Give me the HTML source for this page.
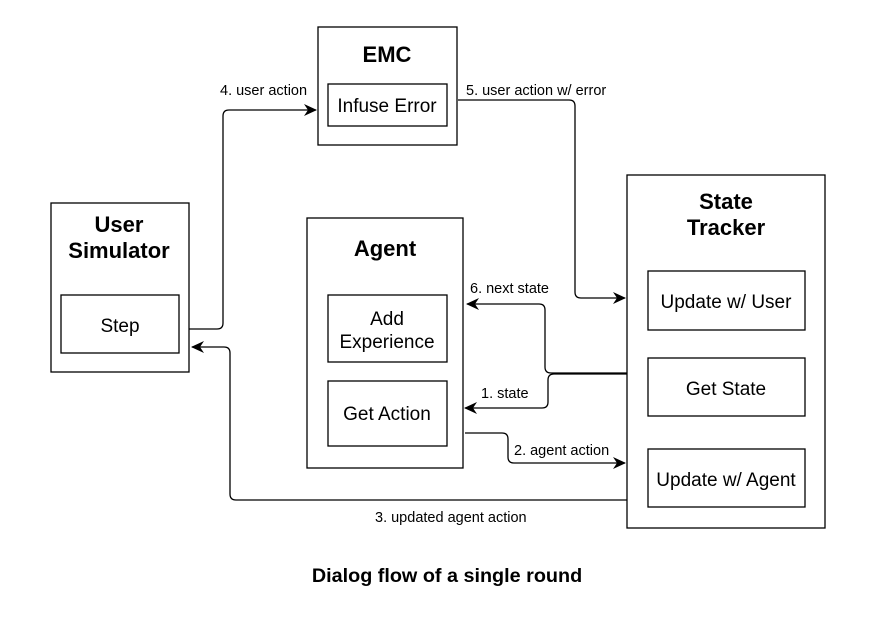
<!DOCTYPE html>
<html><head><style>
body{margin:0;background:#fff;}
svg text{font-family:"Liberation Sans",Arial,sans-serif;fill:#000;}
</style></head><body>
<svg width="881" height="612" viewBox="0 0 881 612" xmlns="http://www.w3.org/2000/svg">
<defs><marker id="a" markerWidth="13" markerHeight="12" refX="12" refY="6" orient="auto" markerUnits="userSpaceOnUse"><path d="M0,0 L13,6 L0,12 L4,6 Z" fill="#000"/></marker></defs>
<g fill="#fff" stroke="#000" stroke-width="1.3">
<rect x="51" y="203" width="138" height="169"/>
<rect x="61" y="295" width="118" height="58"/>
<rect x="318" y="27" width="139" height="118"/>
<rect x="328" y="84" width="119" height="42"/>
<rect x="307" y="218" width="156" height="250"/>
<rect x="328" y="295" width="119" height="67"/>
<rect x="328" y="381" width="119" height="65"/>
<rect x="627" y="175" width="198" height="353"/>
<rect x="648" y="271" width="157" height="59"/>
<rect x="648" y="358" width="157" height="58"/>
<rect x="648" y="449" width="157" height="58"/>
</g>
<g fill="none" stroke="#000" stroke-width="1.3">
<path d="M189,329 H217 Q223,329 223,323 V116 Q223,110 229,110 H316" marker-end="url(#a)"/>
<path d="M458,100 H569 Q575,100 575,106 V292 Q575,298 581,298 H625" marker-end="url(#a)"/>
<path d="M627,373 H551 Q545,373 545,367 V310 Q545,304 539,304 H467" marker-end="url(#a)"/>
<path d="M627,374 H554 Q548,374 548,380 V402 Q548,408 542,408 H465" marker-end="url(#a)"/>
<path d="M465,433 H502 Q508,433 508,439 V457 Q508,463 514,463 H625" marker-end="url(#a)"/>
<path d="M627,500 H236 Q230,500 230,494 V353 Q230,347 224,347 H192" marker-end="url(#a)"/>
</g>
<g text-anchor="middle">
<text x="119" y="232" font-size="22" font-weight="bold">User</text>
<text x="119" y="258" font-size="22" font-weight="bold">Simulator</text>
<text x="120" y="332" font-size="19">Step</text>
<text x="387" y="62" font-size="22" font-weight="bold">EMC</text>
<text x="387" y="112" font-size="19">Infuse Error</text>
<text x="385" y="256" font-size="22" font-weight="bold">Agent</text>
<text x="387" y="325" font-size="19">Add</text>
<text x="387" y="348" font-size="19">Experience</text>
<text x="387" y="420" font-size="19">Get Action</text>
<text x="726" y="209" font-size="22" font-weight="bold">State</text>
<text x="726" y="235" font-size="22" font-weight="bold">Tracker</text>
<text x="726" y="308" font-size="19">Update w/ User</text>
<text x="726" y="395" font-size="19">Get State</text>
<text x="726" y="486" font-size="19">Update w/ Agent</text>
<text x="447" y="582" font-size="19.8" font-weight="bold">Dialog flow of a single round</text>
</g>
<g font-size="14.5">
<text x="220" y="95">4. user action</text>
<text x="466" y="95">5. user action w/ error</text>
<text x="470" y="293">6. next state</text>
<text x="481" y="398">1. state</text>
<text x="514" y="455">2. agent action</text>
<text x="375" y="522">3. updated agent action</text>
</g>
</svg>
</body></html>
